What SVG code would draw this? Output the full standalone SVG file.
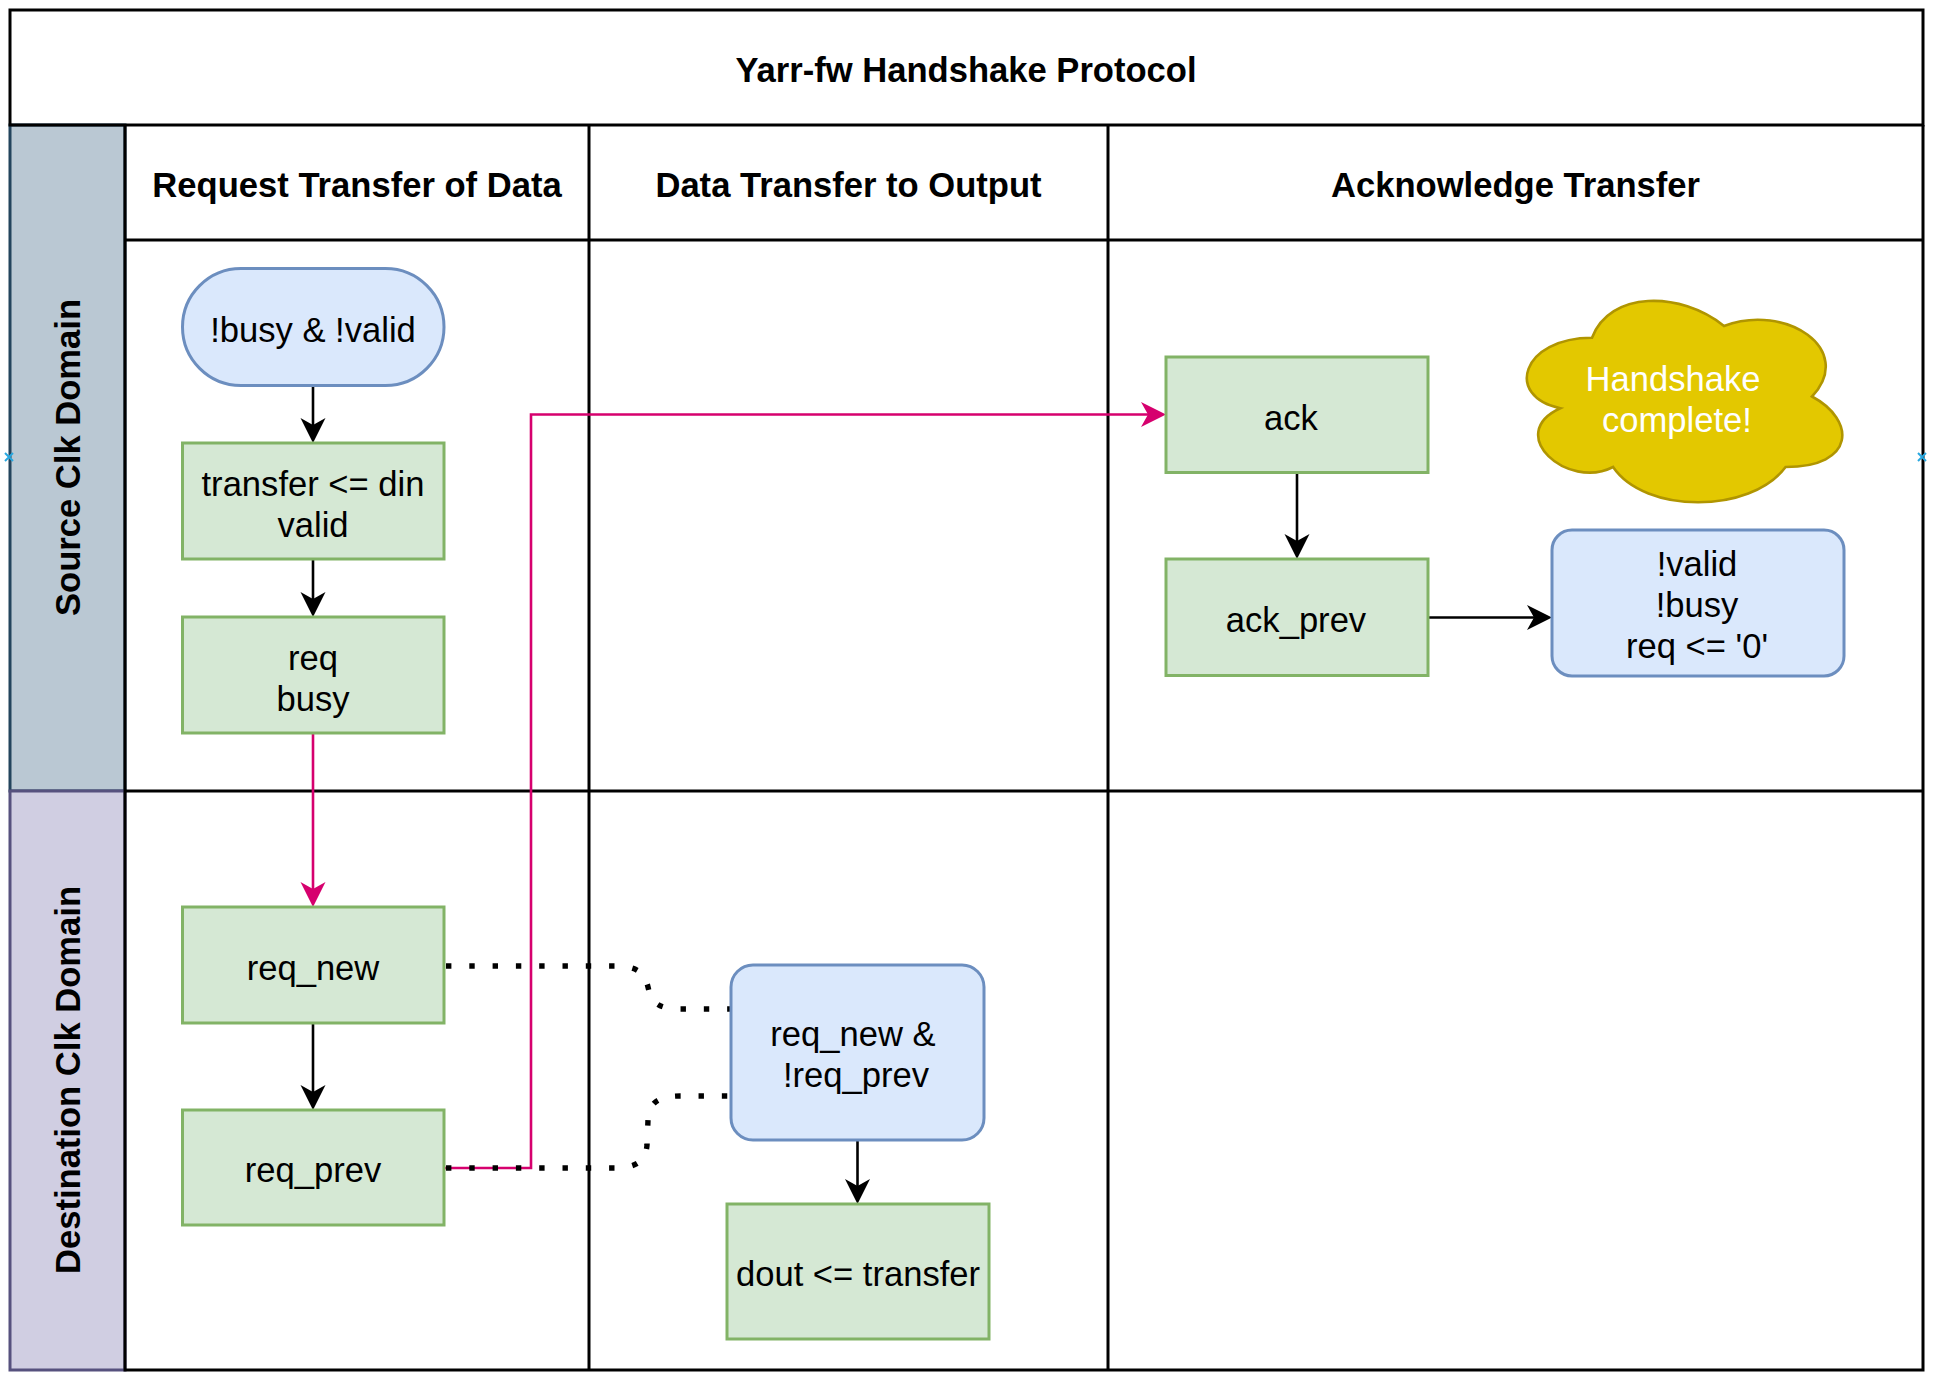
<svg xmlns="http://www.w3.org/2000/svg" width="1933" height="1383" viewBox="0 0 1933 1383">
<style>
.t{font-family:"Liberation Sans",Arial,Helvetica,sans-serif;font-size:34.6px;fill:#000;text-anchor:middle}
.b{font-weight:bold}
.w{fill:#fff}
.frame{fill:none;stroke:#000;stroke-width:3}
.green{fill:#d5e8d4;stroke:#82b366;stroke-width:3}
.blue{fill:#dae8fc;stroke:#6c8ebf;stroke-width:3}
.edge{fill:none;stroke:#000;stroke-width:2.6}
.pink{fill:none;stroke:#d6006e;stroke-width:2.6}
.dot{fill:none;stroke:#000;stroke-width:5.4;stroke-dasharray:5.4 17.9}
.mk{fill:none;stroke:#29a8e0;stroke-width:2}
</style>
<defs>
<marker id="ab" viewBox="0 -13 26 26" refX="7" refY="0" markerWidth="26" markerHeight="26" markerUnits="userSpaceOnUse" orient="auto">
<path d="M25,0 L0,-12.5 L7,0 L0,12.5 Z" fill="#000"/>
</marker>
<marker id="ap" viewBox="0 -13 26 26" refX="7" refY="0" markerWidth="26" markerHeight="26" markerUnits="userSpaceOnUse" orient="auto">
<path d="M25,0 L0,-12.5 L7,0 L0,12.5 Z" fill="#d6006e"/>
</marker>
</defs>
<rect width="1933" height="1383" fill="#fff"/>
<g id="pool">
<rect x="10" y="125" width="115" height="666" fill="#bac8d3" stroke="#23445d" stroke-width="3"/>
<rect x="10" y="791" width="115" height="579" fill="#d0cee2" stroke="#56517e" stroke-width="3"/>
<rect class="frame" x="10" y="10" width="1913" height="115"/>
<path class="frame" d="M125,240 H1923 M125,125 V1370 H1923 V125 M589,125 V1370 M1108,125 V1370 M125,791 H1923"/>
<text class="t b" x="966" y="82">Yarr-fw Handshake Protocol</text>
<text class="t b" x="357" y="197">Request Transfer of Data</text>
<text class="t b" x="848.5" y="197">Data Transfer to Output</text>
<text class="t b" x="1515.5" y="197">Acknowledge Transfer</text>
<text class="t b" transform="translate(68,457.5) rotate(-90)" x="0" y="12">Source Clk Domain</text>
<text class="t b" transform="translate(68,1080) rotate(-90)" x="0" y="12">Destination Clk Domain</text>
<path class="mk" d="M5,453 L13,461 M13,453 L5,461 M1918,453 L1926,461 M1926,453 L1918,461"/>
</g>
<g id="connectors">
<path class="edge" d="M313,386 V425" marker-end="url(#ab)"/>
<path class="edge" d="M313,559 V599" marker-end="url(#ab)"/>
<path class="edge" d="M313,1023 V1092" marker-end="url(#ab)"/>
<path class="edge" d="M1297,472 V541" marker-end="url(#ab)"/>
<path class="edge" d="M1428,617.5 H1534" marker-end="url(#ab)"/>
<path class="edge" d="M857.5,1140 V1186" marker-end="url(#ab)"/>
<path class="pink" d="M313,733 V889" marker-end="url(#ap)"/>
<path class="pink" d="M444,1168 H531 V414.5 H1148" marker-end="url(#ap)"/>
<path class="dot" d="M446,966 H615 C640,966 645,975 648,987 C651,1000 655,1009 680,1009 H731"/>
<path class="dot" d="M446,1168 H615 C640,1168 646,1158 647,1145 L648,1120 C649,1105 655,1096 680,1096 H731"/>
</g>
<g id="n_start">
<rect class="blue" x="182.5" y="268.5" width="261.5" height="117" rx="58.5" ry="58.5"/>
<text class="t" x="313" y="342">!busy &amp; !valid</text>
</g>
<g id="n_transfer">
<rect class="green" x="182.5" y="443" width="261.5" height="116"/>
<text class="t" x="313" y="495.5">transfer &lt;= din</text>
<text class="t" x="313" y="536.5">valid</text>
</g>
<g id="n_req">
<rect class="green" x="182.5" y="617" width="261.5" height="116"/>
<text class="t" x="313" y="669.5">req</text>
<text class="t" x="313" y="710.5">busy</text>
</g>
<g id="n_req_new">
<rect class="green" x="182.5" y="907" width="261.5" height="116"/>
<text class="t" x="313" y="979.5">req_new</text>
</g>
<g id="n_req_prev">
<rect class="green" x="182.5" y="1110" width="261.5" height="115"/>
<text class="t" x="313" y="1181.5">req_prev</text>
</g>
<g id="n_cond">
<rect class="blue" x="731" y="965" width="253" height="175" rx="22" ry="22"/>
<text class="t" x="853" y="1046">req_new &amp;</text>
<text class="t" x="856" y="1087">!req_prev</text>
</g>
<g id="n_dout">
<rect class="green" x="727" y="1204" width="262" height="135"/>
<text class="t" x="858" y="1286">dout &lt;= transfer</text>
</g>
<g id="n_ack">
<rect class="green" x="1166" y="357" width="262" height="115.5"/>
<text class="t" x="1291" y="429.5">ack</text>
</g>
<g id="n_ack_prev">
<rect class="green" x="1166" y="559" width="262" height="116.5"/>
<text class="t" x="1296" y="631.5">ack_prev</text>
</g>
<g id="n_done">
<rect class="blue" x="1552" y="530" width="292" height="146" rx="20" ry="20"/>
<text class="t" x="1697" y="576">!valid</text>
<text class="t" x="1697" y="617">!busy</text>
<text class="t" x="1697" y="658">req &lt;= '0'</text>
</g>
<g id="n_cloud">
<path d="M1592,337.75 C1521.6,337.75 1504,396.5 1560.3,408.25 C1504,434.1 1567.4,490.5 1613.1,467 C1644.8,514 1750.4,514 1785.6,467 C1856,467 1856,420 1812,396.5 C1856,349.5 1785.6,302.5 1724,326 C1680,290.75 1609.6,290.75 1592,337.75 Z" fill="#e3c800" stroke="#b09500" stroke-width="2.6"/>
<text class="t w" x="1673" y="391">Handshake</text>
<text class="t w" x="1677" y="432">complete!</text>
</g>
</svg>
